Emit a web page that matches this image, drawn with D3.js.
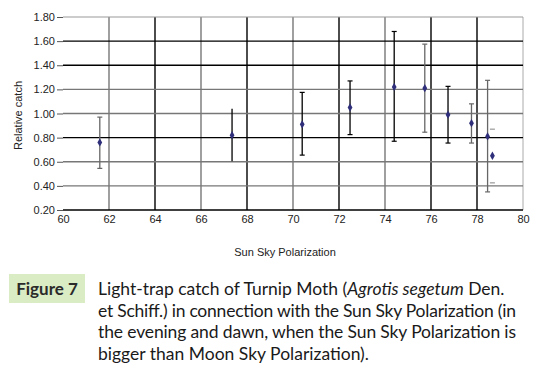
<!DOCTYPE html>
<html lang="en">
  <head>
    <meta charset="UTF-8" />
    <title>Light-trap catch vs Sun Sky Polarization</title>
    <script src="https://d3js.org/d3.v7.min.js"></script>
    <style>
      body {
        margin: 0;
        padding: 0;
        background: #ffffff;
        width: 539px;
        height: 372px;
        overflow: hidden;
      }
      .tick text {
        font-family: "Liberation Sans", Arial, sans-serif;
        font-size: 11px;
        fill: #222;
      }
      .caption {
        font-family: Lato, "Open Sans", sans-serif;
        font-size: 17.5px;
        fill: #1a1a1a;
      }
    </style>
  </head>
  <body>
    <svg id="chart" width="539" height="372"></svg>

    <script>
      // polarization (x), relative catch (y), error bar ends
      const polarization = [61.6, 67.35, 70.4, 72.48, 74.4, 75.73, 76.74, 77.76, 78.46, 78.67];
      const catchValue = [0.76, 0.82, 0.91, 1.05, 1.22, 1.21, 0.99, 0.92, 0.81, 0.65];
      const errHigh = [0.97, 1.04, 1.175, 1.27, 1.68, 1.575, 1.225, 1.08, 1.275, 0.87];
      const errLow = [0.545, 0.605, 0.655, 0.825, 0.77, 0.845, 0.755, 0.755, 0.35, 0.425];
      // how each error bar was drawn in the original: stem colour / caps
      const errStyle = ["gray", "black-nocap", "black", "black", "black", "gray", "black", "gray", "gray", "capsonly"];

      const xTicks = [60, 62, 64, 66, 68, 70, 72, 74, 76, 78, 80];
      const yTicks = [0.2, 0.4, 0.6, 0.8, 1.0, 1.2, 1.4, 1.6, 1.8];
      const darkX = [64, 68, 72, 76, 78];
      const darkY = [0.2, 0.8, 1.4, 1.6];

      const captionLabel = "Figure 7";
      const captionLines = [
        [["Light-trap catch of Turnip Moth (", false], ["Agrotis segetum", true], [" Den.", false]],
        [["et Schiff.) in connection with the Sun Sky Polarization (in", false]],
        [["the evening and dawn, when the Sun Sky Polarization is", false]],
        [["bigger than Moon Sky Polarization).", false]],
      ];

      const svg = d3.select("#chart");
      const plotLeft = 63, plotRight = 523, plotTop = 17, plotBottom = 210;

      const x = d3.scaleLinear().domain([60, 80]).range([plotLeft, plotRight]);
      const y = d3.scaleLinear().domain([0.2, 1.8]).range([plotBottom, plotTop]);

      // grid
      const grid = svg.append("g");
      xTicks.slice(1).forEach((t) => {
        grid.append("line")
          .attr("x1", x(t)).attr("x2", x(t))
          .attr("y1", plotTop).attr("y2", plotBottom)
          .attr("stroke", t === 80 ? "#aaa" : darkX.includes(t) ? "#000" : "#777")
          .attr("stroke-width", t === 80 ? 1 : 1.4);
      });
      yTicks.forEach((t) => {
        grid.append("line")
          .attr("x1", plotLeft).attr("x2", plotRight)
          .attr("y1", y(t)).attr("y2", y(t))
          .attr("stroke", t === 1.8 ? "#999" : darkY.includes(t) ? "#000" : "#777")
          .attr("stroke-width", t === 1.8 ? 1 : 1.4);
      });

      // axes (labels only)
      const yAxis = svg.append("g")
        .attr("transform", `translate(${plotLeft},0)`)
        .call(d3.axisLeft(y).tickValues(yTicks).tickFormat(d3.format(".2f")).tickSize(6).tickPadding(2));
      yAxis.select(".domain").remove();
      yAxis.selectAll(".tick line").attr("stroke", "#555");

      const xAxis = svg.append("g")
        .attr("transform", `translate(0,${plotBottom})`)
        .call(d3.axisBottom(x).tickValues(xTicks).tickSize(0).tickPadding(5));
      xAxis.select(".domain").remove();

      svg.append("text")
        .attr("x", 285).attr("y", 256)
        .attr("text-anchor", "middle")
        .attr("font-family", "Liberation Sans, Arial, sans-serif")
        .attr("font-size", 11).attr("fill", "#222")
        .text("Sun Sky Polarization");

      svg.append("text")
        .attr("transform", `translate(22,${(plotTop + plotBottom) / 2 + 2}) rotate(-90)`)
        .attr("text-anchor", "middle")
        .attr("font-family", "Liberation Sans, Arial, sans-serif")
        .attr("font-size", 11).attr("fill", "#222")
        .text("Relative catch");

      // error bars
      const bars = svg.append("g");
      polarization.forEach((p, i) => {
        const style = errStyle[i];
        const col = style.startsWith("black") ? "#000" : "#666";
        const cx = x(p);
        if (style !== "capsonly") {
          bars.append("line")
            .attr("x1", cx).attr("x2", cx)
            .attr("y1", y(errHigh[i])).attr("y2", y(errLow[i]))
            .attr("stroke", col).attr("stroke-width", 1.3);
        }
        if (style !== "black-nocap") {
          [errHigh[i], errLow[i]].forEach((v) => {
            bars.append("line")
              .attr("x1", cx - 2.5).attr("x2", cx + 2.5)
              .attr("y1", y(v)).attr("y2", y(v))
              .attr("stroke", style === "capsonly" ? "#999" : col)
              .attr("stroke-width", 1.2);
          });
        }
      });

      // markers
      svg.append("g")
        .selectAll("path")
        .data(polarization)
        .join("path")
        .attr("d", d3.symbol(d3.symbolDiamond, 20))
        .attr("transform", (d, i) => `translate(${x(d)},${y(catchValue[i])})`)
        .attr("fill", "#2e2e7a");

      // caption
      svg.append("rect")
        .attr("x", 9).attr("y", 274)
        .attr("width", 76).attr("height", 29)
        .attr("fill", "#d9ecc4");
      svg.append("text")
        .attr("x", 47).attr("y", 295)
        .attr("text-anchor", "middle")
        .attr("font-family", "Lato, 'Open Sans', sans-serif")
        .attr("font-size", 17).attr("font-weight", "bold")
        .attr("fill", "#2a2a2a")
        .text(captionLabel);

      const maxCaptionWidth = 418;
      captionLines.forEach((parts, i) => {
        const t = svg.append("text")
          .attr("class", "caption")
          .attr("x", 98).attr("y", 295 + i * 21.7);
        parts.forEach(([s, it]) => {
          t.append("tspan").attr("font-style", it ? "italic" : "normal").text(s);
        });
        // squeeze lines that run past the right edge
        if (t.node().getComputedTextLength() > maxCaptionWidth) {
          t.attr("textLength", maxCaptionWidth).attr("lengthAdjust", "spacing");
        }
      });
    </script>
  </body>
</html>
